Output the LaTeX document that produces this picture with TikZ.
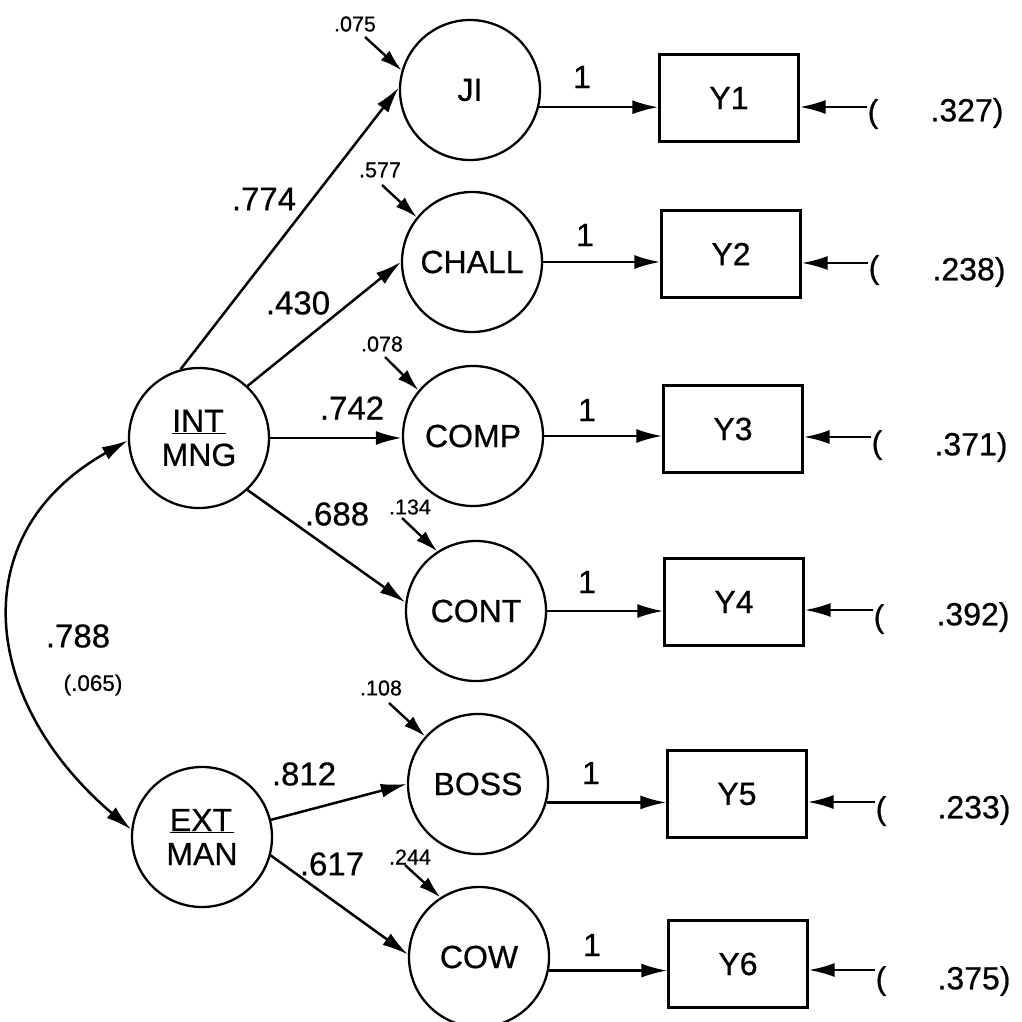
\documentclass[tikz,border=0pt]{standalone}
\usepackage{fontspec}
\setmainfont{Liberation Sans}[UprightFeatures={FakeBold=0.6}]
\usetikzlibrary{arrows.meta}
\begin{document}
\begin{tikzpicture}[x=1pt,y=-1pt,
 every node/.style={font=\fontsize{32}{34}\selectfont, inner sep=0pt},
 lat/.style={draw, circle, minimum size=140pt, inner sep=0pt, line width=2.3pt},
 obs/.style={draw, rectangle, minimum width=139pt, minimum height=87pt, inner sep=0pt, line width=2.3pt},
 arr/.style={line width=2.5pt, -{Latex[length=26pt,width=14pt]}},
 earr/.style={line width=2.4pt, -{Latex[length=22pt,width=13pt]}},
 coef/.style={font=\fontsize{33}{36}\selectfont},
 small/.style={font=\fontsize{21.5}{24}\selectfont},
]
\useasboundingbox (0,0) rectangle (1022,1022);

% latent variables
\node[lat] (JI) at (470,90) {JI};
\node[lat] (CHALL) at (472,262) {CHALL};
\node[lat] (COMP) at (473,436) {COMP};
\node[lat] (CONT) at (476,611) {CONT};
\node[lat] (BOSS) at (478,784) {BOSS};
\node[lat] (COW) at (479,957) {COW};
\node[lat, align=center] (INT) at (199,438) {\underline{INT\kern2pt}\\MNG};
\node[lat, align=center] (EXT) at (202,837) {\underline{EXT\kern2pt}\\MAN};

% observed
\node[obs] (Y1) at (729,98) {Y1};
\node[obs] (Y2) at (731,254) {Y2};
\node[obs] (Y3) at (733,429) {Y3};
\node[obs] (Y4) at (734,602) {Y4};
\node[obs] (Y5) at (737,794) {Y5};
\node[obs] (Y6) at (738,964) {Y6};

% loadings 1
\draw[arr] (JI.-14) -- (JI.-14 -| Y1.west);
\draw[arr] (CHALL.east) -- (CHALL.east -| Y2.west);
\draw[arr] (COMP.east) -- (COMP.east -| Y3.west);
\draw[arr] (CONT.east) -- (CONT.east -| Y4.west);
\draw[arr] (BOSS.-15) -- (BOSS.-15 -| Y5.west);
\draw[arr] (COW.-11) -- (COW.-11 -| Y6.west);
\node (o1) at (582,77) {1};
\node (o2) at (585,235) {1};
\node (o3) at (587,410) {1};
\node (o4) at (587,582) {1};
\node (o5) at (591,773) {1};
\node (o6) at (592,945) {1};

% second-order paths
\draw[arr] (INT.105) -- (JI.178);
\draw[arr] (INT.47) -- (CHALL.180);
\draw[arr] (INT.0) -- (INT.0 -| COMP.west);
\draw[arr] (INT.-47) -- (CONT.173);
\draw[arr] (EXT.14) -- (BOSS.180);
\draw[arr] (EXT.-15) -- (COW.178);
\node[coef] (c1) at (264,199) {.774};
\node[coef] (c2) at (298,303) {.430};
\node[coef] (c3) at (352,408) {.742};
\node[coef] (c4) at (337,514) {.688};
\node[coef] (c5) at (304,774) {.812};
\node[coef] (c6) at (332,864) {.617};

% correlation
\draw[line width=2.5pt, {Latex[length=26pt,width=14pt]}-{Latex[length=26pt,width=14pt]}]
  (INT.182) .. controls (-40,535) and (-17,704) .. (EXT.174);
\node[coef] (r1) at (78,636) {.788};
\node[small, font=\fontsize{22.5}{24}\selectfont] (r2) at (93,685) {(.065)};

% disturbances
\coordinate (d1) at (365,37);
\coordinate (d2) at (382,185);
\coordinate (d3) at (385,357);
\coordinate (d4) at (402,518);
\coordinate (d5) at (389,703);
\coordinate (d6) at (405,865);
\draw[earr] (d1) -- (JI.164);
\draw[earr] (d2) -- (CHALL.141);
\draw[earr] (d3) -- (COMP.140);
\draw[earr] (d4) -- (CONT.123);
\draw[earr] (d5) -- (BOSS.138);
\draw[earr] (d6) -- (COW.123);
\node[small] (s1) at (355,24) {.075};
\node[small] (s2) at (380,170) {.577};
\node[small] (s3) at (382,344) {.078};
\node[small] (s4) at (410,507) {.134};
\node[small] (s5) at (381,688) {.108};
\node[small] (s6) at (410,857) {.244};

% measurement errors
\node (p1) at (873,114) {(};
\node (p2) at (874,270) {(};
\node (p3) at (877,445) {(};
\node (p4) at (879,619) {(};
\node (p5) at (881,811) {(};
\node (p6) at (881,981) {(};
\coordinate (q1) at ([yshift=7pt]p1.west);
\coordinate (q2) at ([yshift=7pt]p2.west);
\coordinate (q3) at ([yshift=8pt]p3.west);
\coordinate (q4) at ([yshift=9pt]p4.west);
\coordinate (q5) at ([yshift=9pt]p5.west);
\coordinate (q6) at ([yshift=11pt]p6.west);
\draw[arr] (q1) -- (q1 -| Y1.east);
\draw[arr] (q2) -- (q2 -| Y2.east);
\draw[arr] (q3) -- (q3 -| Y3.east);
\draw[arr] (q4) -- (q4 -| Y4.east);
\draw[arr] (q5) -- (q5 -| Y5.east);
\draw[arr] (q6) -- (q6 -| Y6.east);
\node (e1) at (967,113) {.327)};
\node (e2) at (969,272) {.238)};
\node (e3) at (971,447) {.371)};
\node (e4) at (973,617) {.392)};
\node (e5) at (974,810) {.233)};
\node (e6) at (974,981) {.375)};
\end{tikzpicture}
\end{document}
